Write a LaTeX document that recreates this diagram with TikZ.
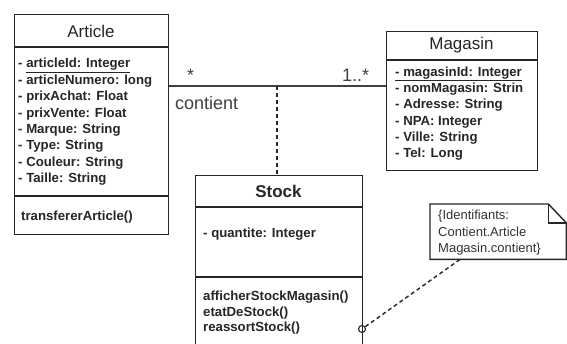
\documentclass[tikz,border=0pt]{standalone}
\usepackage{fontspec}
\setmainfont{Liberation Sans}
\begin{document}
\begin{tikzpicture}[x=1pt,y=-1pt,
  box/.style={draw=black!85,line width=1.4pt,inner sep=0pt,anchor=north west},
  sep/.style={draw=black!85,line width=1.4pt},
  title/.style={font=\fontsize{17}{20}\selectfont,inner sep=0pt,text=black!85},
  attr/.style={font=\fontsize{13.2}{15}\selectfont\bfseries,inner sep=0pt,anchor=base west,text=black!85},
  lbl/.style={font=\fontsize{18}{20}\selectfont,inner sep=0pt,anchor=base west,text=black!75},
  notetxt/.style={font=\fontsize{13}{15}\selectfont,inner sep=0pt,anchor=base west,text=black!80},
  assoc/.style={draw=black!75,line width=1.4pt},
  dsh/.style={draw=black!85,line width=1.4pt,dash pattern=on 4pt off 3pt}]
\clip (0,0) rectangle (567,343);
\fill[white] (0,0) rectangle (567,343);
% Article
\node[box,minimum width=154pt,minimum height=220pt] (article) at (14,14) {};
\draw[sep] (14,47) -- (168,47);
\draw[sep] (14,196) -- (168,196);
\node[title] (articleT) at (91,31) {Article};
\node[attr] (art1) at (18,67.8) {- \underline{articleId: Integer}};
\foreach [count=\i from 2] \t in {- articleNumero: long,- prixAchat: Float,- prixVente: Float,- Marque: String,- Type: String,- Couleur: String,- Taille: String}
  \node[attr] (art\i) at (18,67.8+16.4*\i-16.4) {\t};
\node[attr] (artm) at (21,220.5) {transfererArticle()};
% Magasin
\node[box,minimum width=151pt,minimum height=139pt] (magasin) at (386,31) {};
\draw[sep] (386,60) -- (537,60);
\node[title] (magasinT) at (461.5,45) {Magasin};
\node[attr] (mag1) at (395,76.5) {\underline{- magasinId: Integer}};
\foreach [count=\i from 2] \t in {- nomMagasin: Strin,- Adresse: String,- NPA: Integer,- Ville: String,- Tel: Long}
  \node[attr] (mag\i) at (395,76.5+16.2*\i-16.2) {\t};
% Stock
\node[box,minimum width=167pt,minimum height=190pt] (stock) at (195,175) {};
\draw[sep] (195,207) -- (362,207);
\draw[sep] (195,277) -- (362,277);
\node[title,font=\fontsize{17}{20}\selectfont\bfseries] (stockT) at (278.5,191) {Stock};
\node[attr] (st1) at (203,237.5) {- quantite: Integer};
\node[attr] (st2) at (203,300.5) {afficherStockMagasin()};
\node[attr] (st3) at (203,316.5) {etatDeStock()};
\node[attr] (st4) at (203,331.5) {reassortStock()};
% Association
\coordinate (j) at (277,86);
\draw[assoc] (article.east |- j) -- (magasin.west |- j);
\draw[dsh] (j) -- (j |- stock.north);
\node[lbl] (m1) at (187,81.5) {*};
\node[lbl] (m2) at (342,81) {1..*};
\node[lbl] (asc) at (175,109) {contient};
% Note
\node[inner sep=0pt,minimum width=136pt,minimum height=55pt,anchor=north west] (note) at (430,204) {};
\draw[draw=black!85,line width=1.4pt] (note.north west) -- ([xshift=-18pt]note.north east) -- ([yshift=-19pt]note.north east) -- (note.south east) -- (note.south west) -- cycle;
\draw[draw=black!85,line width=1.1pt] ([xshift=-18pt]note.north east) -- ([xshift=-18pt,yshift=-19pt]note.north east) -- ([yshift=-19pt]note.north east);
\node[notetxt] (n1) at (438,219.5) {\{Identifiants:};
\node[notetxt] (n2) at (438,236.5) {Contient.Article};
\node[notetxt] (n3) at (438,252.5) {Magasin.contient\}};
\node[circle,draw=black!85,line width=1.1pt,inner sep=0pt,minimum size=7pt] (ring) at (362,329) {};
\draw[dsh] (ring) -- ([xshift=30pt]note.south west);
\end{tikzpicture}
\end{document}
